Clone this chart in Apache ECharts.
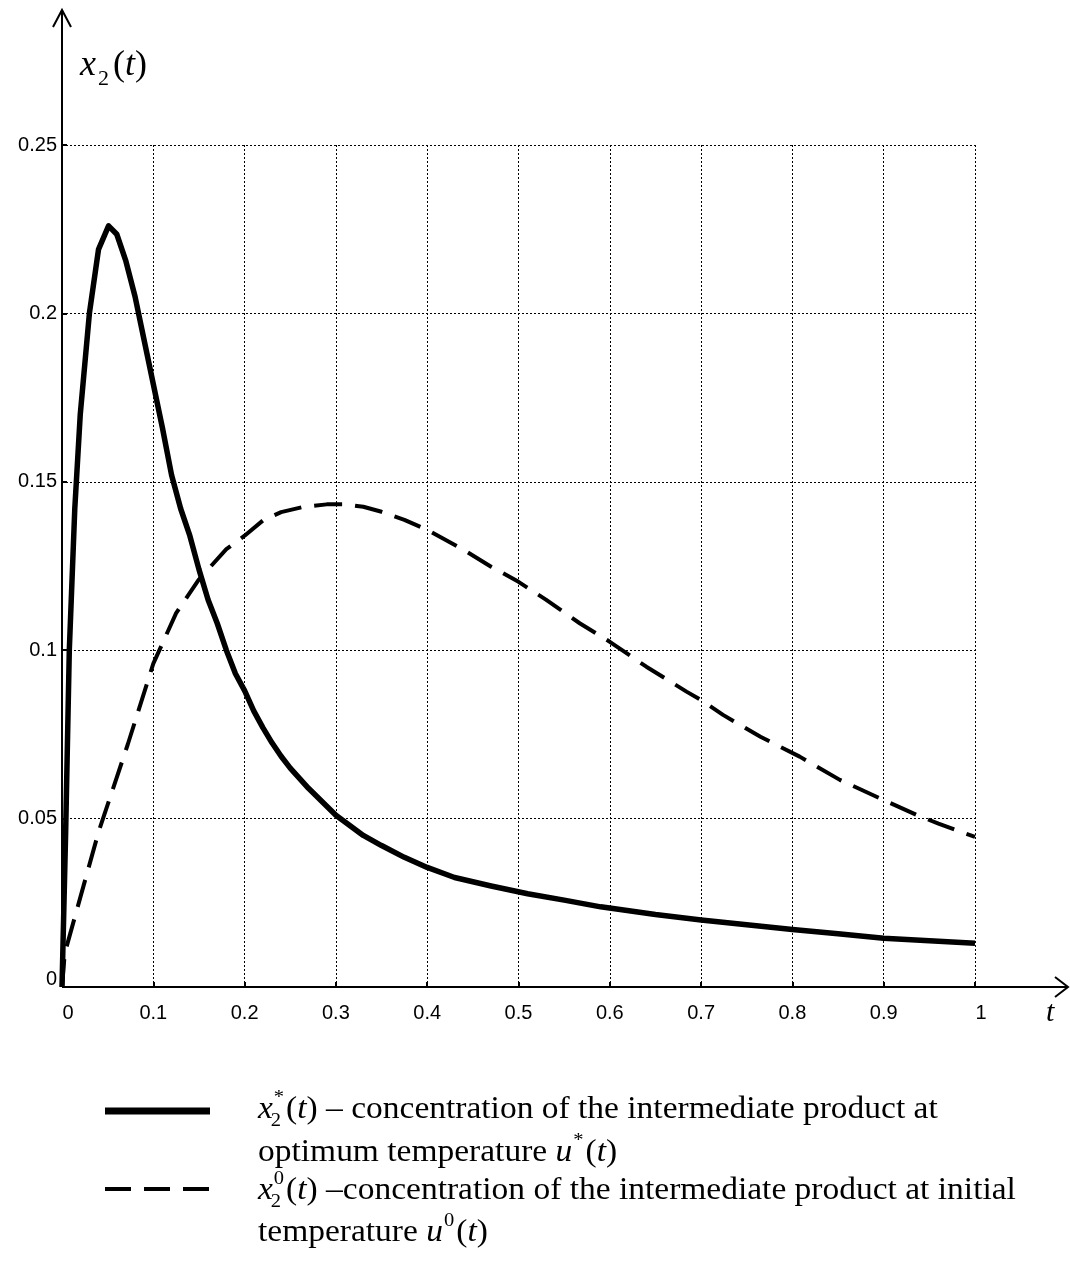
<!DOCTYPE html>
<html>
<head>
<meta charset="utf-8">
<script src="https://cdn.jsdelivr.net/npm/echarts@6/dist/echarts.min.js"></script>
<style>
html, body { margin: 0; padding: 0; background: #fff; }
#main { width: 1070px; height: 1271px; }
</style>
</head>
<body>
<div id="main"></div>
<script>
// x2*(t) at optimum temperature (solid)
var solidT = [0, 0.004, 0.008, 0.014, 0.02, 0.03, 0.04, 0.051, 0.06, 0.07, 0.08, 0.09, 0.1,
    0.11, 0.12, 0.13, 0.14, 0.15, 0.16, 0.17, 0.18, 0.19, 0.2, 0.21, 0.22, 0.23, 0.24, 0.25,
    0.27, 0.3, 0.33, 0.35, 0.375, 0.4, 0.43, 0.47, 0.51, 0.55, 0.59, 0.65, 0.7, 0.75, 0.8,
    0.85, 0.9, 0.95, 1.0];
var solidX = [0, 0.046, 0.1, 0.142, 0.17, 0.2, 0.219, 0.226, 0.2235, 0.2155, 0.205, 0.192, 0.179,
    0.166, 0.152, 0.142, 0.134, 0.124, 0.115, 0.108, 0.1, 0.093, 0.088, 0.082, 0.077, 0.0725, 0.0685, 0.065,
    0.059, 0.051, 0.045, 0.042, 0.0385, 0.0355, 0.0325, 0.03, 0.0277, 0.0258, 0.0238, 0.0215, 0.0199, 0.0185, 0.0171,
    0.0158, 0.0145, 0.0137, 0.013];

// x2^0(t) at initial temperature (dashed)
var dashT = [0, 0.003, 0.04, 0.072, 0.1, 0.125, 0.15, 0.18, 0.2, 0.22, 0.24, 0.265, 0.29, 0.31,
    0.33, 0.35, 0.375, 0.4, 0.44, 0.47, 0.5, 0.53, 0.567, 0.6, 0.64, 0.684, 0.7, 0.724, 0.765,
    0.808, 0.852, 0.896, 0.936, 0.96, 0.984, 1.0];
var dashX = [0, 0.01, 0.046, 0.072, 0.096, 0.111, 0.121, 0.13, 0.134, 0.1385, 0.141, 0.1426, 0.1433, 0.1433,
    0.1426, 0.1411, 0.1387, 0.1357, 0.1298, 0.1248, 0.1203, 0.115, 0.108, 0.1025, 0.0951, 0.0877, 0.0852, 0.0808, 0.0743,
    0.0684, 0.0615, 0.056, 0.0511, 0.0485, 0.0461, 0.0446];

var serif = '"Liberation Serif", "Times New Roman", serif';
var sans = '"Liberation Sans", Arial, sans-serif';

function pairs(t, v) {
    var out = [];
    for (var i = 0; i < t.length; i++) {
        out.push([t[i], v[i]]);
    }
    return out;
}

var chart = echarts.init(document.getElementById('main'));

var gridLine = {
    show: true,
    lineStyle: { color: '#000', width: 1, type: [2, 2] }
};

var option = {
    backgroundColor: '#fff',
    animation: false,
    grid: { left: 62, right: 95, top: 145, bottom: 284 },
    xAxis: {
        type: 'value',
        min: 0,
        max: 1,
        interval: 0.1,
        axisLine: { show: false },
        axisTick: { show: true, inside: true, length: 5, lineStyle: { color: '#000', width: 2 } },
        splitLine: gridLine,
        axisLabel: {
            margin: 16,
            color: '#000',
            fontFamily: sans,
            fontSize: 20,
            formatter: function (v) {
                if (v === 0 || v === 1) {
                    return '{s|' + v + '}';
                }
                return String(Math.round(v * 10) / 10);
            },
            rich: {
                s: { padding: [0, 0, 0, 12], fontFamily: sans, fontSize: 20, color: '#000' }
            }
        }
    },
    yAxis: {
        type: 'value',
        min: 0,
        max: 0.25,
        interval: 0.05,
        axisLine: { show: false },
        axisTick: { show: true, inside: true, length: 5, lineStyle: { color: '#000', width: 2 } },
        splitLine: gridLine,
        axisLabel: {
            margin: 5,
            color: '#000',
            fontFamily: sans,
            fontSize: 20,
            formatter: function (v) {
                if (v === 0) {
                    return '{z|0}';
                }
                return String(Math.round(v * 100) / 100);
            },
            rich: {
                z: { padding: [0, 0, 16, 0], fontFamily: sans, fontSize: 20, color: '#000' }
            }
        }
    },
    series: [{
        name: 'optimum',
        type: 'line',
        data: pairs(solidT, solidX),
        showSymbol: false,
        smooth: false,
        lineStyle: { color: '#000', width: 5.5, join: 'round' },
        z: 3
    }, {
        name: 'initial',
        type: 'line',
        data: pairs(dashT, dashX),
        showSymbol: false,
        smooth: false,
        lineStyle: { color: '#000', width: 4, type: [28, 13] },
        z: 3
    }]
};
chart.setOption(option);

// text pieces with super/subscripts laid out side by side
var ctx = document.createElement('canvas').getContext('2d');
function textWidth(str, font) {
    ctx.font = font;
    return ctx.measureText(str).width;
}

function mathLine(x0, yc, fs, parts, sx) {
    sx = sx || 1;
    var els = [];
    var x = x0;
    var small = Math.round(fs * 0.62);
    function piece(str, px, py, font) {
        els.push({
            type: 'text', x: px, y: py, scaleX: sx,
            style: { text: str, font: font, fill: '#000', verticalAlign: 'middle', align: 'left' }
        });
    }
    parts.forEach(function (p) {
        if (p.k === 'n' || p.k === 'i') {
            var font = (p.k === 'i' ? 'italic ' : '') + fs + 'px ' + serif;
            piece(p.s, x, yc, font);
            x += textWidth(p.s, font) * sx;
        } else {
            var sfont = small + 'px ' + serif;
            var w = 0;
            var gap = p.gap || 2;
            var shift = p.subShift || 0;
            if (p.sup) {
                piece(p.sup, x + 1, yc - fs * 0.4, sfont);
                w = Math.max(w, textWidth(p.sup, sfont) * sx + 1);
            }
            if (p.sub) {
                piece(p.sub, x - 2 + shift, yc + fs * 0.36, sfont);
                w = Math.max(w, textWidth(p.sub, sfont) * sx - 2 + shift);
            }
            x += w + gap;
        }
    });
    return els;
}

var origin = chart.convertToPixel({ gridIndex: 0 }, [0, 0]);
var ox = origin[0], oy = origin[1];

var graphics = [];

// axes with arrows
graphics.push({
    type: 'polyline', shape: { points: [[ox, oy], [ox, 10]] },
    style: { stroke: '#000', lineWidth: 2, fill: null }
});
graphics.push({
    type: 'polyline', shape: { points: [[ox - 9, 27], [ox, 10], [ox + 9, 27]] },
    style: { stroke: '#000', lineWidth: 2, fill: null }
});
graphics.push({
    type: 'polyline', shape: { points: [[ox, oy], [1068, oy]] },
    style: { stroke: '#000', lineWidth: 2, fill: null }
});
graphics.push({
    type: 'polyline', shape: { points: [[1055, oy - 10], [1068, oy], [1055, oy + 10]] },
    style: { stroke: '#000', lineWidth: 2, fill: null }
});

// axis names
graphics = graphics.concat(mathLine(80, 66, 36, [
    { k: 'i', s: 'x' }, { k: 's', sub: '2', subShift: 4, gap: 4 }, { k: 'n', s: '(' }, { k: 'i', s: 't' }, { k: 'n', s: ')' }
]));
graphics = graphics.concat(mathLine(1046, 1013, 30, [{ k: 'i', s: 't' }]));

// legend samples
graphics.push({
    type: 'line', shape: { x1: 105, y1: 1111, x2: 210, y2: 1111 },
    style: { stroke: '#000', lineWidth: 7 }
});
graphics.push({
    type: 'line', shape: { x1: 105, y1: 1189, x2: 210, y2: 1189 },
    style: { stroke: '#000', lineWidth: 4, lineDash: [26, 13] }
});

var fs = 31;
var sx = 1.08;
graphics = graphics.concat(mathLine(258, 1110, fs, [
    { k: 'i', s: 'x' }, { k: 's', sup: '*', sub: '2' }, { k: 'n', s: '(' }, { k: 'i', s: 't' }, { k: 'n', s: ')' },
    { k: 'n', s: ' \u2013 concentration of the intermediate product at' }
], sx));
graphics = graphics.concat(mathLine(258, 1153, fs, [
    { k: 'n', s: 'optimum temperature ' }, { k: 'i', s: 'u' }, { k: 's', sup: '*' },
    { k: 'n', s: '(' }, { k: 'i', s: 't' }, { k: 'n', s: ')' }
], sx));
graphics = graphics.concat(mathLine(258, 1191, fs, [
    { k: 'i', s: 'x' }, { k: 's', sup: '0', sub: '2' }, { k: 'n', s: '(' }, { k: 'i', s: 't' }, { k: 'n', s: ')' },
    { k: 'n', s: ' \u2013concentration of the intermediate product at initial' }
], sx));
graphics = graphics.concat(mathLine(258, 1233, fs, [
    { k: 'n', s: 'temperature ' }, { k: 'i', s: 'u' }, { k: 's', sup: '0' },
    { k: 'n', s: '(' }, { k: 'i', s: 't' }, { k: 'n', s: ')' }
], sx));

chart.setOption({ graphic: graphics });
</script>
</body>
</html>
